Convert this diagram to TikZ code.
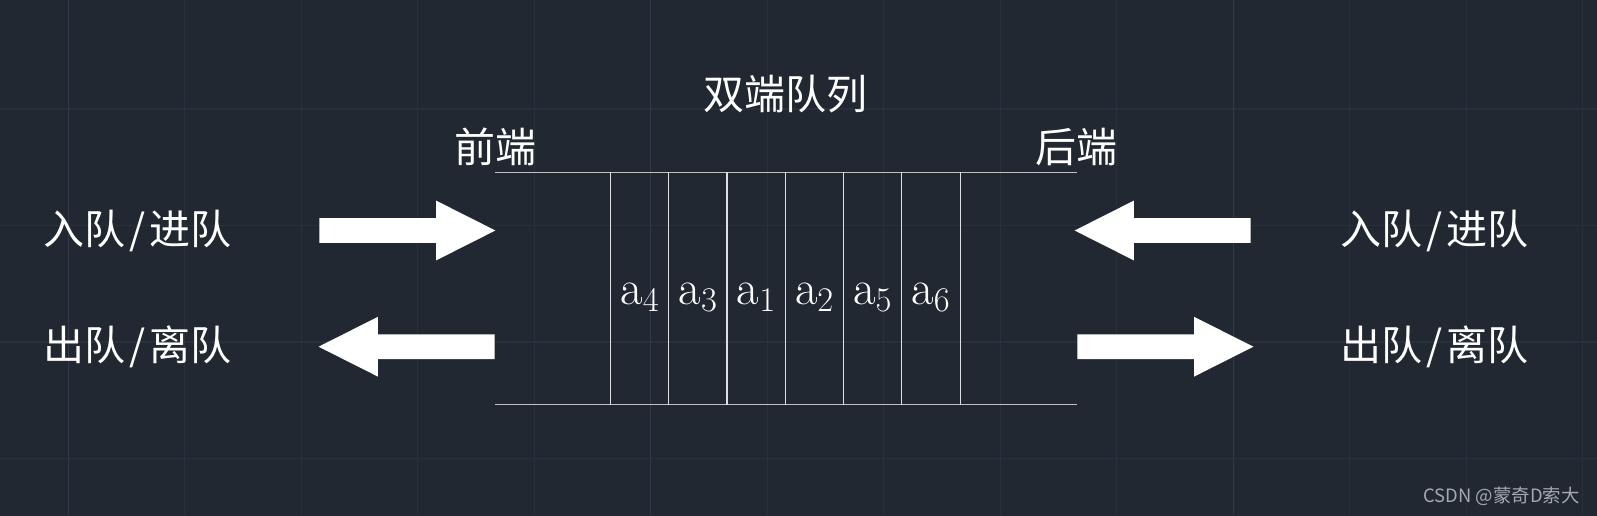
\documentclass[tikz,border=0pt]{standalone}
\usepackage{fontspec}
\newfontfamily\cjk{Noto Sans CJK SC}
\usetikzlibrary{shapes.arrows}
\definecolor{bgc}{RGB}{33,40,49}
\definecolor{gridc}{RGB}{41,48,60}
\definecolor{majorc}{RGB}{50,57,76}
\definecolor{wallc}{RGB}{192,193,196}
\definecolor{sepc}{RGB}{222,223,226}
\definecolor{markc}{RGB}{165,170,176}
\newcommand{\slsh}{\kern2pt/\kern2pt}
\tikzset{cell/.style={minimum width=29.1pt, minimum height=116pt, inner sep=0pt},
  elem/.style={text=white, font=\fontsize{24.4}{28}\selectfont, inner sep=0pt, anchor=base},
  tag/.style={text=white, font=\cjk\fontsize{20.5}{24}\selectfont, inner sep=0pt},
  blockarr/.style={single arrow, fill=white, draw=none, minimum height=88pt, minimum width=0pt,
    inner sep=6pt, single arrow head extend=8.75pt, single arrow tip angle=53.5,
    single arrow head indent=0pt}}

\begin{document}
\begin{tikzpicture}[x=0.5pt, y=-0.5pt]
  \useasboundingbox (0,0) rectangle (1597,515);
  \fill[bgc] (-6,-6) rectangle (1603,521);
  % grid
  \foreach \k in {0,...,13}
    \draw[gridc, line width=0.6pt] ({68.3+116.5*\k},0) -- ({68.3+116.5*\k},515);
  \foreach \k in {0,...,3}
    \draw[gridc, line width=0.6pt] (0,{109+116.5*\k}) -- (1597,{109+116.5*\k});
  \foreach \x in {68.3,650.8,1233.3}
    \draw[majorc, line width=0.6pt] (\x,0) -- (\x,515);
  % queue
  \coordinate (fT) at (495,172.3);
  \coordinate (fB) at (495,404.3);
  \coordinate (rT) at (1077,172.3);
  \coordinate (rB) at (1077,404.3);
  \draw[wallc, line width=0.6pt] (fT) -- (rT);
  \draw[wallc, line width=0.6pt] (fB) -- (rB);
  \foreach \v [count=\i] in {4,3,1,2,5,6}{
    \node[cell] (c\i) at ({611+58.2*(\i-0.5)},288.3) {};
    \draw[sepc, line width=0.6pt] (c\i.north west) -- (c\i.south west);
    \node[elem] (a\i) at ([yshift=-8pt]c\i.center) {$\mathrm{a}_{\v}$};
  }
  \draw[sepc, line width=0.6pt] (c6.north east) -- (c6.south east);
  % labels
  \node[tag] (title) at (785,94.5) {双端队列};
  \node[tag] (front) at (495,147) {前端};
  \node[tag] (rear) at (1076,146.5) {后端};
  \node[tag, anchor=west] (inL) at (43,230.5) {入队\slsh 进队};
  \node[tag, anchor=west] (outL) at (43,347) {出队\slsh 离队};
  \node[tag, anchor=west] (inR) at (1340,230.5) {入队\slsh 进队};
  \node[tag, anchor=west] (outR) at (1340,347) {出队\slsh 离队};
  % arrows
  \node[blockarr, anchor=tail] (pushF) at (319,230.5) {};
  \node[blockarr, rotate=180, anchor=tail] (popF) at (495,346.7) {};
  \node[blockarr, rotate=180, anchor=tail] (pushR) at (1251,230.5) {};
  \node[blockarr, anchor=tail] (popR) at (1077,346.7) {};
  \node[text=markc, font=\cjk\fontsize{9.2}{11}\selectfont, anchor=base east, inner sep=0pt]
    (mark) at (1580,502.7) {CSDN @蒙奇D索大};
\end{tikzpicture}
\end{document}
